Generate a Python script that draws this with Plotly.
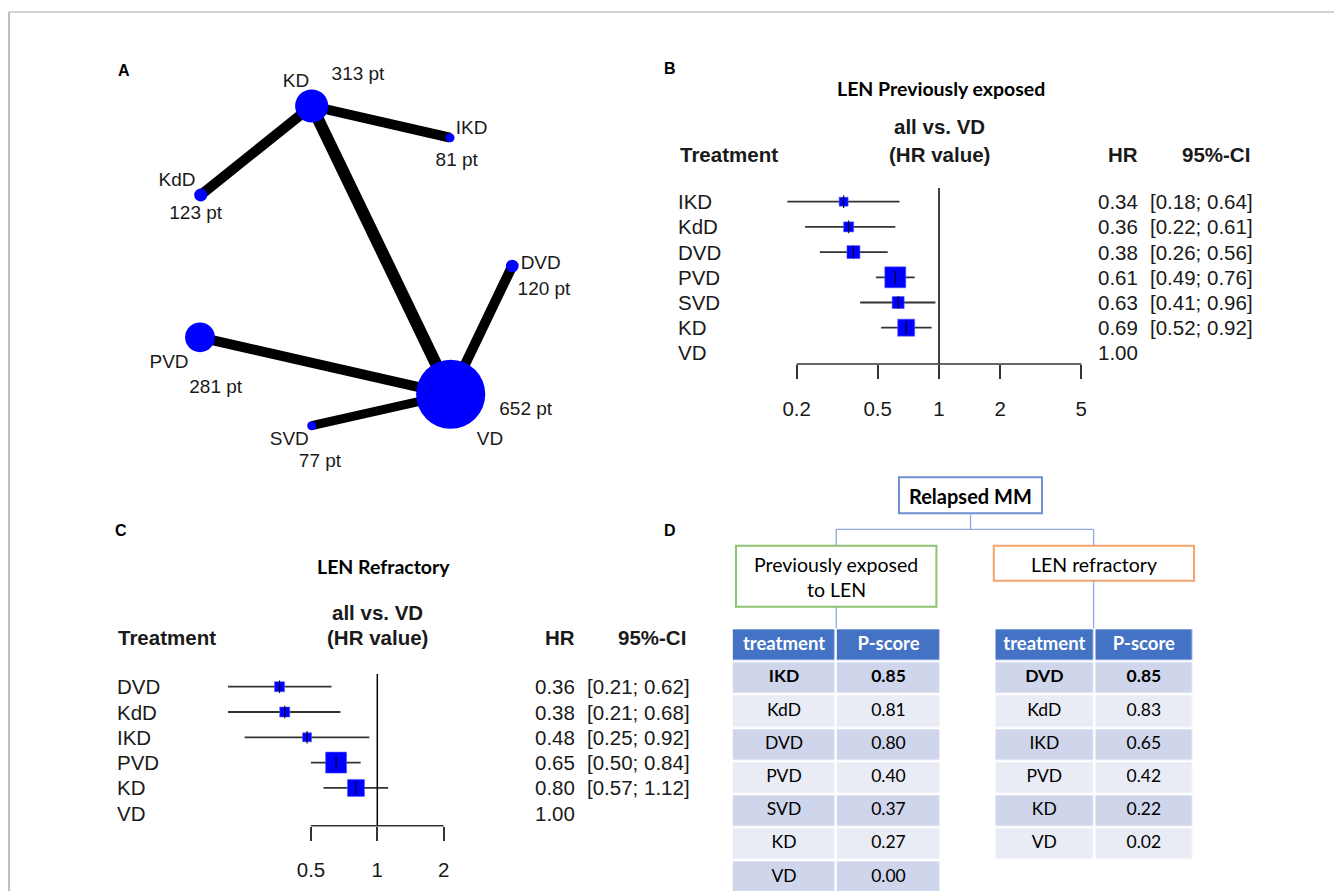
import plotly.graph_objects as go

W, H = 1342, 891
OFF = 8  # page body margin of the html page

# ---------------- data ----------------
# Panel A: network of treatments (patients per node)
net_treatments = ["KD", "IKD", "KdD", "DVD", "PVD", "VD", "SVD"]
net_patients = [313, 81, 123, 120, 281, 652, 77]
net_edges = [("KD", "IKD"), ("KD", "KdD"), ("KD", "VD"),
             ("DVD", "VD"), ("PVD", "VD"), ("SVD", "VD")]

# Panel B: LEN previously exposed (HR vs VD)
b_treat = ["IKD", "KdD", "DVD", "PVD", "SVD", "KD", "VD"]
b_hr = [0.34, 0.36, 0.38, 0.61, 0.63, 0.69, 1.00]
b_lo = [0.18, 0.22, 0.26, 0.49, 0.41, 0.52, None]
b_hi = [0.64, 0.61, 0.56, 0.76, 0.96, 0.92, None]
b_ticks = [0.2, 0.5, 1, 2, 5]

# Panel C: LEN refractory (HR vs VD)
c_treat = ["DVD", "KdD", "IKD", "PVD", "KD", "VD"]
c_hr = [0.36, 0.38, 0.48, 0.65, 0.80, 1.00]
c_lo = [0.21, 0.21, 0.25, 0.50, 0.57, None]
c_hi = [0.62, 0.68, 0.92, 0.84, 1.12, None]
c_ticks = [0.5, 1, 2]

# Panel D: P-scores
d_exp_treat = ["IKD", "KdD", "DVD", "PVD", "SVD", "KD", "VD"]
d_exp_p = [0.85, 0.81, 0.80, 0.40, 0.37, 0.27, 0.00]
d_ref_treat = ["DVD", "KdD", "IKD", "PVD", "KD", "VD"]
d_ref_p = [0.85, 0.83, 0.65, 0.42, 0.22, 0.02]

# ---------------- layout / style ----------------
NODE_XY = {"KD": (311.7, 106), "IKD": (450, 137.7), "KdD": (200.7, 195),
           "DVD": (512.3, 266), "PVD": (200, 337.3), "VD": (450.7, 394.3),
           "SVD": (311.7, 425.7)}
NAME_XY = {"KD": (296, 82), "IKD": (471.7, 129), "KdD": (177, 181.7),
           "DVD": (540.7, 264.3), "PVD": (169, 363.3), "VD": (490, 440),
           "SVD": (289.3, 440)}
PT_XY = {"KD": (358, 75), "IKD": (456.7, 161.7), "KdD": (195.7, 214),
         "DVD": (544, 290), "PVD": (215.7, 388.3), "VD": (525.7, 410),
         "SVD": (320, 462.7)}
EDGE_W = [10, 10, 12, 10, 10, 9]
SQ_B = [9, 10, 13, 21, 12, 17]
SQ_C = [10, 10, 9, 21, 17]

ARIAL = "Liberation Sans, Arial, sans-serif"
CAL = "Lato, Carlito, Calibri, sans-serif"
TXT = "#1a1a1a"
BLUE = "#0000FF"
FS = 20.5


def fx(p):
    return (p - OFF) / W


def fy(p):
    return 1 - (p - OFF) / H


fig = go.Figure()
shapes = []
ann = []

# ---------- Panel A ----------
for (a, b), w in zip(net_edges, EDGE_W):
    fig.add_trace(go.Scatter(x=[NODE_XY[a][0], NODE_XY[b][0]], y=[NODE_XY[a][1], NODE_XY[b][1]],
                             mode="lines", line=dict(color="black", width=w),
                             xaxis="x", yaxis="y", hoverinfo="skip", showlegend=False))
fig.add_trace(go.Scatter(x=[NODE_XY[t][0] for t in net_treatments],
                         y=[NODE_XY[t][1] for t in net_treatments],
                         mode="markers",
                         marker=dict(color=BLUE, opacity=1,
                                     size=[max(9, 0.106 * p) for p in net_patients],
                                     line=dict(width=0)),
                         xaxis="x", yaxis="y", hoverinfo="skip", showlegend=False))
fig.add_trace(go.Scatter(x=[NAME_XY[t][0] for t in net_treatments] + [PT_XY[t][0] for t in net_treatments],
                         y=[NAME_XY[t][1] for t in net_treatments] + [PT_XY[t][1] for t in net_treatments],
                         text=net_treatments + [f"{p} pt" for p in net_patients],
                         mode="text", textposition="middle center",
                         textfont=dict(family=ARIAL, size=19, color=TXT),
                         xaxis="x", yaxis="y", hoverinfo="skip", showlegend=False))


# ---------- forest helper ----------
def forest(treat, hr, lo, hi, sq, xa, ya, lab_x, hr_x, ci_x):
    n = len(treat)
    xs, ys = [], []
    for i in range(n):
        if lo[i] is not None:
            xs += [lo[i], hi[i], None]
            ys += [i, i, None]
    fig.add_trace(go.Scatter(x=xs, y=ys, mode="lines", line=dict(color="#333333", width=1.8),
                             xaxis=xa, yaxis=ya, hoverinfo="skip", showlegend=False))
    idx = [i for i in range(n) if lo[i] is not None]
    fig.add_trace(go.Scatter(x=[hr[i] for i in idx], y=idx, mode="markers",
                             marker=dict(symbol="square", color=BLUE, size=sq, opacity=1,
                                         line=dict(width=0.6, color="#5a5aff")),
                             xaxis=xa, yaxis=ya, hoverinfo="skip", showlegend=False))
    fig.add_trace(go.Scatter(x=[hr[i] for i in idx], y=idx, mode="markers",
                             marker=dict(symbol="line-ns", size=9, opacity=1,
                                         line=dict(width=1.1, color="black")),
                             xaxis=xa, yaxis=ya, hoverinfo="skip", showlegend=False))
    yref = "y" + ya[1:]
    font = dict(family=ARIAL, size=FS, color=TXT)
    for i in range(n):
        ann.append(dict(x=fx(lab_x), y=i, xref="paper", yref=yref, text=treat[i],
                        xanchor="left", yanchor="middle", showarrow=False, font=font))
        ann.append(dict(x=fx(hr_x), y=i, xref="paper", yref=yref, text=f"{hr[i]:.2f}",
                        xanchor="right", yanchor="middle", showarrow=False, font=font))
        if lo[i] is not None:
            ann.append(dict(x=fx(ci_x), y=i, xref="paper", yref=yref,
                            text=f"[{lo[i]:.2f}; {hi[i]:.2f}]",
                            xanchor="left", yanchor="middle", showarrow=False, font=font))


def headers(title, title_x, title_y, lab_x, hr_x, ci_r, ref_x, h1_y, h2_y):
    ann.append(dict(x=fx(title_x), y=fy(title_y), xref="paper", yref="paper", text=f"<b>{title}</b>",
                    showarrow=False, xanchor="center", yanchor="middle",
                    font=dict(family=CAL, size=19.5, color="black")))
    bold = dict(family=ARIAL, size=FS, color=TXT)
    ann.append(dict(x=fx(lab_x), y=fy(h2_y), xref="paper", yref="paper", text="<b>Treatment</b>",
                    showarrow=False, xanchor="left", yanchor="middle", font=bold))
    ann.append(dict(x=fx(ref_x), y=fy(h1_y), xref="paper", yref="paper", text="<b>all vs. VD</b>",
                    showarrow=False, xanchor="center", yanchor="middle", font=bold))
    ann.append(dict(x=fx(ref_x), y=fy(h2_y), xref="paper", yref="paper", text="<b>(HR value)</b>",
                    showarrow=False, xanchor="center", yanchor="middle", font=bold))
    ann.append(dict(x=fx(hr_x), y=fy(h2_y), xref="paper", yref="paper", text="<b>HR</b>",
                    showarrow=False, xanchor="right", yanchor="middle", font=bold))
    ann.append(dict(x=fx(ci_r), y=fy(h2_y), xref="paper", yref="paper", text="<b>95%-CI</b>",
                    showarrow=False, xanchor="right", yanchor="middle", font=bold))


# ---------- Panel B ----------
forest(b_treat, b_hr, b_lo, b_hi, SQ_B, "x2", "y2", 676, 1140, 1148)
headers("LEN Previously exposed", 941, 88, 678, 1140, 1252, 939, 127, 154)
shapes.append(dict(type="line", xref="x2", yref="y2 domain", x0=1, x1=1, y0=0, y1=1,
                   line=dict(color="black", width=1.5)))
shapes.append(dict(type="line", xref="x2", yref="y2 domain", x0=b_ticks[0], x1=b_ticks[-1], y0=0, y1=0,
                   line=dict(color="#333333", width=1.5)))

# ---------- Panel C ----------
forest(c_treat, c_hr, c_lo, c_hi, SQ_C, "x3", "y3", 115, 577, 585)
headers("LEN Refractory", 383, 566, 116, 577, 688, 378, 612, 637)
shapes.append(dict(type="line", xref="x3", yref="y3 domain", x0=1, x1=1, y0=0, y1=1,
                   line=dict(color="black", width=1.5)))
shapes.append(dict(type="line", xref="x3", yref="y3 domain", x0=c_ticks[0], x1=c_ticks[-1], y0=0, y1=0,
                   line=dict(color="#333333", width=1.5)))


# ---------- Panel D tables ----------
def table(treat, pvals, xa, ya):
    n = len(treat)
    z = [[2, 2]] + [[1, 1] if (r % 2 == 1) else [0, 0] for r in range(1, n + 1)]
    fig.add_trace(go.Heatmap(z=z, x=[0, 1], y=list(range(n + 1)), zmin=0, zmax=2,
                             colorscale=[[0, "#E9EBF5"], [0.33, "#E9EBF5"], [0.34, "#CFD5EA"],
                                         [0.66, "#CFD5EA"], [0.67, "#4472C4"], [1, "#4472C4"]],
                             showscale=False, xgap=2.5, ygap=2.5, hoverinfo="skip",
                             xaxis=xa, yaxis=ya))
    # header row
    fig.add_trace(go.Scatter(x=[0, 1], y=[0, 0], text=["<b>treatment</b>", "<b>P-score</b>"],
                             mode="text", textposition="middle center",
                             textfont=dict(family=CAL, size=18.5, color="white"),
                             xaxis=xa, yaxis=ya, hoverinfo="skip", showlegend=False))
    names = [f"<b>{t}</b>" if i == 0 else t for i, t in enumerate(treat)]
    ps = [f"<b>{p:.2f}</b>" if i == 0 else f"{p:.2f}" for i, p in enumerate(pvals)]
    rows = list(range(1, n + 1))
    fig.add_trace(go.Scatter(x=[0] * n + [1] * n, y=rows * 2,
                             text=names + ps, mode="text", textposition="middle center",
                             textfont=dict(family=CAL, size=17.5, color="black"),
                             xaxis=xa, yaxis=ya, hoverinfo="skip", showlegend=False))


table(d_exp_treat, d_exp_p, "x4", "y4")
table(d_ref_treat, d_ref_p, "x5", "y5")

# boxes and connectors
CONN = "#8EA9DB"
box_specs = [  # x0, y0, x1, y1, color
    (899, 477.3, 1042, 513.3, "#6F90D2"),
    (736, 545.7, 936.4, 606.7, "#8DC26F"),
    (993.8, 545.7, 1194, 580.7, "#F4A46C"),
]
for x0, y0, x1, y1, c in box_specs:
    shapes.append(dict(type="rect", xref="paper", yref="paper", x0=fx(x0), x1=fx(x1), y0=fy(y0), y1=fy(y1),
                       line=dict(color=c, width=2), fillcolor="white"))
for (x0, y0, x1, y1) in [(970.5, 513.3, 970.5, 529.3), (836.2, 529.3, 1093.6, 529.3),
                         (836.2, 529.3, 836.2, 545.7), (1093.6, 529.3, 1093.6, 545.7),
                         (836.2, 606.7, 836.2, 628.3), (1093.6, 580.7, 1093.6, 628.3)]:
    shapes.append(dict(type="line", xref="paper", yref="paper", x0=fx(x0), x1=fx(x1), y0=fy(y0), y1=fy(y1),
                       line=dict(color=CONN, width=1.3)))
for txt, x, y, b, s in [("Relapsed MM", 970.5, 495.5, True, 20), ("Previously exposed", 836.2, 564, False, 19.5),
                        ("to LEN", 836.2, 589.5, False, 19.5), ("LEN refractory", 1093.6, 564, False, 19.5)]:
    ann.append(dict(x=fx(x), y=fy(y), xref="paper", yref="paper", text=f"<b>{txt}</b>" if b else txt,
                    showarrow=False, xanchor="center", yanchor="middle",
                    font=dict(family=CAL, size=s, color="black")))

# panel letters
for L, x, y in [("A", 124, 70), ("B", 670, 68), ("C", 121, 530), ("D", 670, 530)]:
    ann.append(dict(x=fx(x), y=fy(y), xref="paper", yref="paper", text=f"<b>{L}</b>",
                    showarrow=False, xanchor="center", yanchor="middle",
                    font=dict(family=ARIAL, size=16, color="black")))

# figure border
shapes.append(dict(type="line", xref="paper", yref="paper", x0=fx(9), x1=1, y0=fy(12), y1=fy(12),
                   line=dict(color="#C4C4C4", width=1.5)))
shapes.append(dict(type="line", xref="paper", yref="paper", x0=fx(9), x1=fx(9), y0=0, y1=fy(12),
                   line=dict(color="#AAAAAA", width=1.5)))

hidden = dict(showgrid=False, zeroline=False, showline=False, showticklabels=False, ticks="")


def logax(domain_px, one_px, decade_px, ticks):
    lo = (domain_px[0] - one_px) / decade_px
    hi = (domain_px[1] - one_px) / decade_px
    return dict(type="log", domain=[fx(domain_px[0]), fx(domain_px[1])], range=[lo, hi],
                tickvals=ticks, ticktext=[f"{t:g}" for t in ticks], ticks="outside",
                ticklen=14, tickwidth=1.5, tickcolor="#333333", showgrid=False, zeroline=False,
                showline=False, ticklabelstandoff=12,
                tickfont=dict(family=ARIAL, size=FS, color=TXT))


def rowax(top_px, bot_px, row0_px, pitch):
    return dict(domain=[fy(bot_px), fy(top_px)],
                range=[(bot_px - row0_px) / pitch, (top_px - row0_px) / pitch], **hidden)


fig.update_layout(
    width=W, height=H, margin=dict(l=0, r=0, t=0, b=0),
    paper_bgcolor="white", plot_bgcolor="rgba(0,0,0,0)", showlegend=False,
    xaxis=dict(domain=[0, 1], range=[OFF, W + OFF], visible=False),
    yaxis=dict(domain=[0, 1], range=[H + OFF, OFF], visible=False),
    xaxis2=dict(anchor="y2", **logax((700, 1100), 939, 203.6, b_ticks)),
    yaxis2=dict(anchor="x2", **rowax(188, 364, 201.7, 25.2)),
    xaxis3=dict(anchor="y3", **logax((150, 500), 377.3, 220.3, c_ticks)),
    yaxis3=dict(anchor="x3", **rowax(674, 825.7, 686.7, 25.3)),
    xaxis4=dict(anchor="y4", domain=[fx(731.8), fx(940.7)], range=[-0.5, 1.5], **hidden),
    yaxis4=dict(anchor="x4", domain=[0, fy(628.3)], range=[-0.5 + (H + OFF - 628.3) / 33.2, -0.5], **hidden),
    xaxis5=dict(anchor="y5", domain=[fx(994.5), fx(1193.7)], range=[-0.5, 1.5], **hidden),
    yaxis5=dict(anchor="x5", domain=[fy(628.3 + 7 * 33.2), fy(628.3)], range=[6.5, -0.5], **hidden),
    shapes=shapes, annotations=ann,
)

fig.write_html("out.html")
